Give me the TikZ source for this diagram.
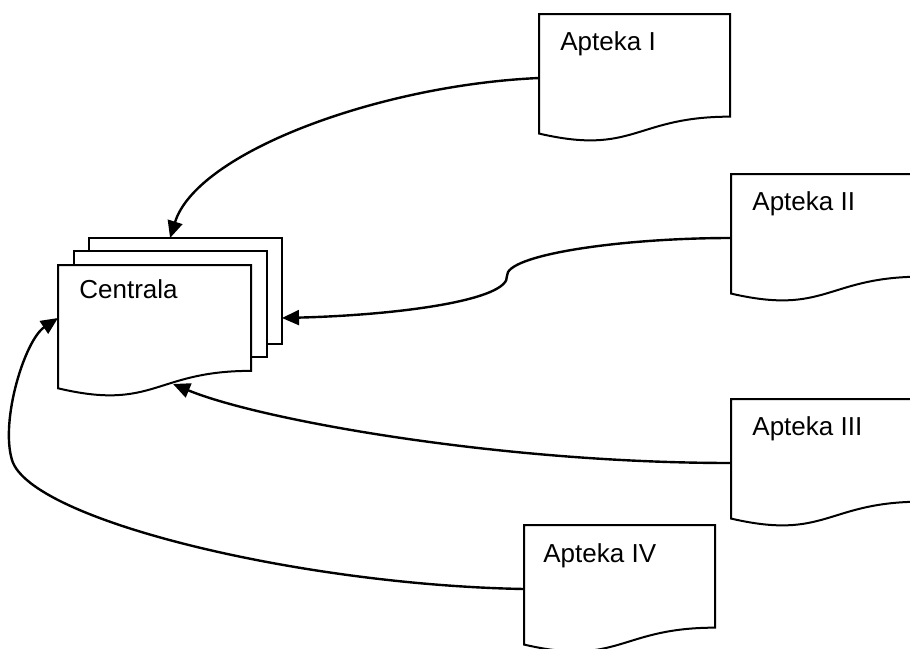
\documentclass[tikz,border=0pt]{standalone}
\usepackage{fontspec}
\setmainfont{Liberation Sans}
\usetikzlibrary{calc,arrows.meta}

\newcommand{\docoutline}[1]{%
  \draw[docline] (#1.north west) -- (#1.north east) -- ($(#1.north east)!0.802!(#1.south east)$)
    .. controls ($(#1.north)!0.802!(#1.south)$) and ($(#1.north)!1.1075!(#1.south)$) .. ($(#1.north west)!0.934!(#1.south west)$) -- cycle;}

\begin{document}
\begin{tikzpicture}[x=0.5pt,y=-0.5pt,
	docbox/.style={rectangle,inner sep=0,outer sep=0,anchor=north west,minimum width=95.5pt,minimum height=64pt},
	sheetbox/.style={rectangle,inner sep=0,outer sep=0,anchor=north west,minimum width=96.5pt,minimum height=53pt},
	docline/.style={draw=black,fill=white,line width=1pt},
	doclabel/.style={anchor=base west,inner sep=0,font=\fontsize{13}{15}\selectfont},
	conn/.style={line width=1.2pt,-{Triangle[length=8.5pt,width=7.5pt]}}]
		\useasboundingbox (0,0) rectangle (910,648);
		\clip (0,0) rectangle (910,648);
		% centrala, three sheets
		\node[sheetbox] (c3) at (89,238) {};
		\node[sheetbox] (c2) at (74,251) {};
		\node[docbox,minimum width=96.5pt,minimum height=66pt] (c1) at (58,265) {};
		\draw[docline] (c3.north west) rectangle (c3.south east);
		\draw[docline] (c2.north west) rectangle (c2.south east);
		\docoutline{c1}
		\node[doclabel] (c1-t) at ($(c1.north west)+(21,33)$) {Centrala};
		% apteki
		\node[docbox] (a1) at (539,14) {};
		\node[docbox] (a2) at (731,174) {};
		\node[docbox] (a3) at (731,399) {};
		\node[docbox] (a4) at (524,525) {};
		\docoutline{a1}
		\docoutline{a2}
		\docoutline{a3}
		\docoutline{a4}
		\node[doclabel] (a1-t) at ($(a1.north west)+(21,36)$) {Apteka I};
		\node[doclabel] (a2-t) at ($(a2.north west)+(21,36)$) {Apteka II};
		\node[doclabel] (a3-t) at ($(a3.north west)+(21,36)$) {Apteka III};
		\node[doclabel] (a4-t) at ($(a4.north west)+(19,37)$) {Apteka IV};
		% ends of the arrows
		\coordinate (c-top) at ($(c3.north west)!0.42!(c3.north east)$);
		\coordinate (c-right) at ($(c3.north east)!0.755!(c3.south east)$);
		\coordinate (c-bottom) at ($(c1.south west)+(115,-13)$);
		\coordinate (c-left) at ($(c1.west)+(0,-13)$);
		\coordinate (a2-bend) at (507,276);
		\coordinate (a4-bend) at (12,460);
		% arrows
		\draw[conn] (a1.west) .. controls (380,85) and (197,152) .. (c-top);
		\draw[conn] (a2.west) .. controls (620,238) and (505,255) .. (a2-bend)
			.. controls (509,300) and (400,315) .. (c-right);
		\draw[conn] (a3.west) .. controls (500,463) and (260,420) .. (c-bottom);
		\draw[conn] (a4.west) .. controls (300,585) and (30,520) .. (a4-bend)
			.. controls (0,420) and (25,340) .. (c-left);
		\end{tikzpicture}
\end{document}
